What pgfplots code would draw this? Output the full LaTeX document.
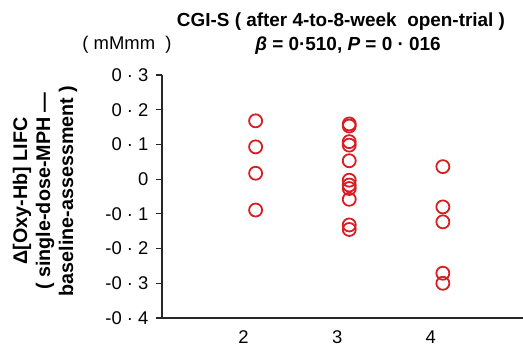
\documentclass[border=0pt]{standalone}
\usepackage{pgfplots}
\pgfplotsset{compat=1.18}
\usepackage{fontspec}
\setmainfont{Liberation Sans}
\definecolor{mred}{RGB}{215,30,35}
\begin{document}
\begin{tikzpicture}
\useasboundingbox (-162bp,-28bp) rectangle (361bp,318bp);
\begin{axis}[
  at={(0,0)}, anchor=south west,
  scale only axis, width=361bp, height=243bp,
  xmin=1, xmax=4.856, ymin=-0.4, ymax=0.3,
  axis x line=bottom, axis y line=left,
  axis line style={-, line width=1.4bp, black!85},
  clip=false,
  xtick={2,3,4}, xticklabels={2,3,4},
  x tick style={draw=none},
  xticklabel style={font=\fontsize{18.5}{18.5}\selectfont, xshift=-12bp, yshift=-3bp},
  ytick={-0.4,-0.3,-0.2,-0.1,0,0.1,0.2,0.3},
  yticklabels={-0 · 4,-0 · 3,-0 · 2,-0 · 1,0,0 · 1,0 · 2,0 · 3},
  tick align=outside, major tick length=6bp,
  y tick style={line width=1.2bp, black!85},
  yticklabel style={font=\fontsize{18.5}{18.5}\selectfont, xshift=-4bp},
]
\addplot[only marks, mark=o, mark size=6.5bp, mark options={draw=mred, line width=1.8bp}] coordinates {
(2,0.168) (2,0.093) (2,0.017) (2,-0.089)
(3,0.159) (3,0.153) (3,0.108) (3,0.098) (3,0.053) (3,-0.003) (3,-0.017) (3,-0.027) (3,-0.058) (3,-0.132) (3,-0.145)
(4,0.036) (4,-0.080) (4,-0.123) (4,-0.271) (4,-0.300)
};
\end{axis}
\node[anchor=base, inner sep=0, font=\fontsize{19}{19}\selectfont\bfseries] at (179bp,291bp) {CGI-S ( after 4-to-8-week \ open-trial )};
\node[anchor=base, inner sep=0, font=\fontsize{19}{19}\selectfont\bfseries] at (186bp,267bp) {\textit{β} = 0·510, \textit{P} = 0 · 016};
\node[anchor=base, inner sep=0, font=\fontsize{18.5}{18.5}\selectfont] at (-35bp,268bp) {( mMmm \ )};
\node[rotate=90, anchor=center, inner sep=0, align=center, font=\fontsize{19.8}{23}\selectfont\bfseries] at (-117bp,127bp) {Δ[Oxy-Hb] LIFC\\( single-dose-MPH —\\baseline-assessment )};
\end{tikzpicture}
\end{document}
